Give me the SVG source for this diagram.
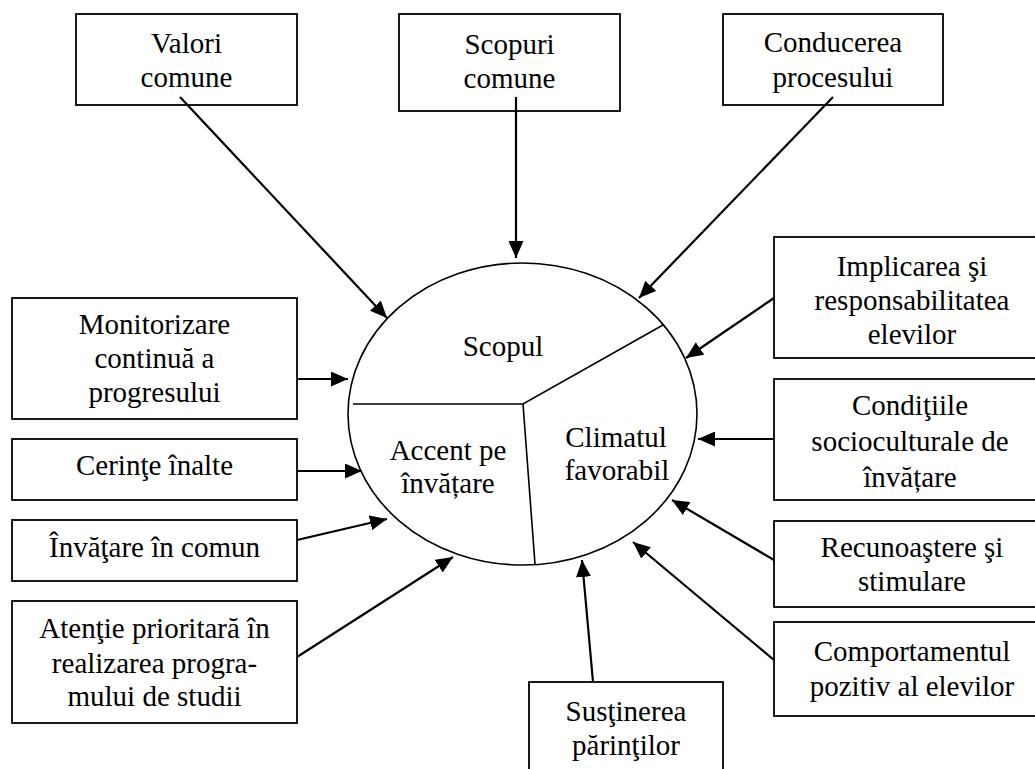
<svg xmlns="http://www.w3.org/2000/svg" width="1035" height="769" viewBox="0 0 1035 769">
<style>
.box{fill:#fff;stroke:#000;stroke-width:1.8}
text{font-family:'Times New Roman',Times,'Liberation Serif',Tinos,'Noto Serif','DejaVu Serif',serif;font-size:29px;fill:#000;text-anchor:middle}
.c{fill:none;stroke:#000;stroke-width:2.2}
.div{fill:none;stroke:#000;stroke-width:1.6}
</style>
<defs>
<marker id="ah" markerUnits="userSpaceOnUse" markerWidth="17" markerHeight="15" refX="17" refY="7.5" orient="auto">
<path d="M0,0 L17,7.5 L0,15 z" fill="#000"/>
</marker>
</defs>
<rect width="1035" height="769" fill="#fff"/>
<g id="center">
<ellipse cx="522.5" cy="414" rx="174.5" ry="151" fill="#fff" stroke="#000" stroke-width="1.6"/>
<path class="div" d="M353,404 L523,404 L663,325 M523,404 L535,564"/>
<text x="503" y="356">Scopul</text>
<text x="448" y="460">Accent pe</text>
<text x="448" y="493">învățare</text>
<text x="616" y="447">Climatul</text>
<text x="617" y="480">favorabil</text>
</g>
<g id="n-valori"><rect class="box" x="76" y="14" width="221" height="91"/><text x="186.5" y="53">Valori</text><text x="186.5" y="87">comune</text></g>
<g id="n-scopuri"><rect class="box" x="399" y="14" width="221" height="97"/><text x="509.5" y="54">Scopuri</text><text x="509.5" y="88">comune</text></g>
<g id="n-conducerea"><rect class="box" x="723" y="14" width="220" height="91"/><text x="833" y="52">Conducerea</text><text x="833" y="87">procesului</text></g>
<g id="n-implicarea"><rect class="box" x="774" y="237" width="280" height="121"/><text x="912" y="276">Implicarea şi</text><text x="912" y="310">responsabilitatea</text><text x="912" y="344">elevilor</text></g>
<g id="n-conditiile"><rect class="box" x="774" y="379" width="280" height="121"/><text x="910" y="415">Condiţiile</text><text x="910" y="451">socioculturale de</text><text x="910" y="487">învățare</text></g>
<g id="n-recunoastere"><rect class="box" x="774" y="521" width="280" height="86"/><text x="912" y="557">Recunoaştere şi</text><text x="912" y="591">stimulare</text></g>
<g id="n-comportamentul"><rect class="box" x="774" y="622" width="280" height="94"/><text x="912" y="661">Comportamentul</text><text x="912" y="696">pozitiv al elevilor</text></g>
<g id="n-sustinerea"><rect class="box" x="529" y="682" width="194" height="100"/><text x="626" y="721">Susţinerea</text><text x="626" y="755">părinţilor</text></g>
<g id="n-monitorizare"><rect class="box" x="12" y="298" width="285" height="121"/><text x="154.5" y="334">Monitorizare</text><text x="154.5" y="368">continuă a</text><text x="154.5" y="402">progresului</text></g>
<g id="n-cerinte"><rect class="box" x="12" y="439" width="285" height="61"/><text x="154.5" y="475">Cerinţe înalte</text></g>
<g id="n-invatare"><rect class="box" x="12" y="520" width="285" height="61"/><text x="154.5" y="557">Învăţare în comun</text></g>
<g id="n-atentie"><rect class="box" x="12" y="601" width="285" height="122"/><text x="154.5" y="638">Atenţie prioritară în</text><text x="154.5" y="673">realizarea progra-</text><text x="154.5" y="706">mului de studii</text></g>
<g id="connectors">
<line class="c" x1="180" y1="97" x2="387" y2="318" marker-end="url(#ah)"/>
<line class="c" x1="516" y1="97" x2="516" y2="258" marker-end="url(#ah)"/>
<line class="c" x1="833" y1="97" x2="639" y2="298" marker-end="url(#ah)"/>
<line class="c" x1="774" y1="298" x2="686" y2="358" marker-end="url(#ah)"/>
<line class="c" x1="774" y1="439" x2="698" y2="439" marker-end="url(#ah)"/>
<line class="c" x1="774" y1="560" x2="672" y2="500" marker-end="url(#ah)"/>
<line class="c" x1="774" y1="660" x2="633" y2="542" marker-end="url(#ah)"/>
<line class="c" x1="593" y1="682" x2="582" y2="560" marker-end="url(#ah)"/>
<line class="c" x1="297" y1="379" x2="348" y2="379" marker-end="url(#ah)"/>
<line class="c" x1="297" y1="471" x2="362" y2="471" marker-end="url(#ah)"/>
<line class="c" x1="297" y1="540" x2="387" y2="519" marker-end="url(#ah)"/>
<line class="c" x1="297" y1="657" x2="453" y2="557" marker-end="url(#ah)"/>
</g>
</svg>
